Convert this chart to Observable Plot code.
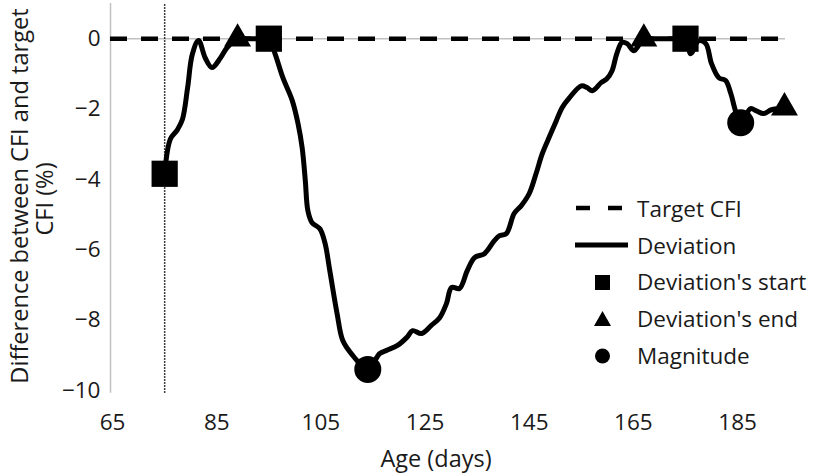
<!DOCTYPE html>
<html><head><meta charset="utf-8">
<script src="https://cdn.jsdelivr.net/npm/d3@7"></script>
<script src="https://cdn.jsdelivr.net/npm/@observablehq/plot@0.6"></script>
<style>
body{margin:0;background:#fff;font-family:"Open Sans",sans-serif;}
#wrap{position:relative;width:815px;height:475px;}
#legend{position:absolute;left:574px;top:190px;font-size:22.5px;color:#1a1a1a;}
.row{display:flex;align-items:center;height:36.8px;white-space:nowrap;}
.row svg{width:63px;height:36px;flex:none;}
</style></head><body><div id="wrap"><div id="chart"></div><div id="legend"></div></div>
<script>
// Deviation curve (age in days, difference in %)
const devDays = [75, 76.1, 77.4, 78.4, 79.4, 80.3, 81.5, 82.8, 84.1, 85.7, 87, 89, 91, 93, 95,
  96.2, 97.7, 99.5, 100.6, 101.4, 102, 102.5, 103.3, 104.8, 105.8, 106.7, 108.1, 109.2, 111.1, 114,
  116.3, 117.6, 119.7, 121.5, 122.6, 124.3, 126.2, 127.8, 129.1, 130.1, 131.6, 133.1, 134.5, 136.4,
  138.3, 139.3, 140.6, 142.1, 143.5, 145, 146.3, 147.5, 148.8, 150.2, 151.3, 152.7, 155, 156.1,
  157.1, 158.8, 159.9, 160.9, 161.8, 162.8, 163.8, 165.1, 167, 169, 171, 173, 175,
  176, 177.5, 178.9, 180, 181.4, 182.7, 183.7, 184.6, 185.6, 187.5, 188.6, 190, 191.5, 194];
const devValues = [-3.84, -2.85, -2.6, -2.3, -1.4, -0.45, -0.05, -0.55, -0.82, -0.55, -0.25, 0, 0, 0, 0,
  -0.43, -1.11, -1.76, -2.41, -3.1, -4.03, -4.89, -5.23, -5.4, -5.82, -6.59, -7.81, -8.58, -9.0, -9.4,
  -8.95, -8.86, -8.72, -8.49, -8.3, -8.38, -8.15, -7.93, -7.53, -7.07, -7.1, -6.59, -6.22, -6.11,
  -5.74, -5.6, -5.54, -4.97, -4.74, -4.4, -3.84, -3.27, -2.81, -2.33, -1.96, -1.68, -1.34, -1.39,
  -1.48, -1.25, -1.14, -0.91, -0.43, -0.11, -0.14, -0.34, 0, 0, 0, 0, 0,
  -0.43, -0.06, -0.14, -0.71, -1.11, -1.19, -1.56, -2.05, -2.39, -1.99, -2.05, -2.13, -2.02, -1.96];

const startDays = [75, 95, 175];
const startValues = [-3.84, 0, 0];
const endDays = [89, 167, 194];
const endValues = [0, 0, -1.96];
const magDays = [114, 185.6];
const magValues = [-9.4, -2.39];

const targetValue = 0;
const refDay = 75;
const xDomain = [64.6, 194.2];
const yDomain = [-10, 1];
const xTicks = [65, 85, 105, 125, 145, 165, 185];
const yTicks = [-10, -8, -6, -4, -2, 0];
const xLabel = "Age (days)";
const yLabelLines = ["Difference between CFI and target", "CFI (%)"];
const legendLabels = ["Target CFI", "Deviation", "Deviation's start", "Deviation's end", "Magnitude"];

const dev = devDays.map((d, i) => ({day: d, value: devValues[i]}));
const starts = startDays.map((d, i) => ({day: d, value: startValues[i]}));
const ends = endDays.map((d, i) => ({day: d, value: endValues[i]}));
const mags = magDays.map((d, i) => ({day: d, value: magValues[i]}));

const chart = Plot.plot({
  width: 815, height: 475,
  marginLeft: 110, marginRight: 30, marginTop: 3, marginBottom: 85,
  style: {fontFamily: "Open Sans", fontSize: "22.5px", color: "#1a1a1a", background: "white", overflow: "visible"},
  x: {domain: xDomain, ticks: xTicks, tickSize: 0, tickPadding: 24, label: null},
  y: {domain: yDomain, ticks: yTicks, tickSize: 0, tickPadding: 10, label: null},
  marks: [
    Plot.ruleX([xDomain[0]], {y1: -10.08, y2: yDomain[1], stroke: "#c0c0c0", strokeWidth: 1.5}),
    Plot.ruleY([targetValue], {stroke: "#c0c0c0", strokeWidth: 1.5}),
    Plot.ruleX([refDay], {y1: -10.08, y2: yDomain[1], stroke: "#000", strokeWidth: 1.5, strokeDasharray: "1.5,1.5"}),
    Plot.ruleY([targetValue], {stroke: "#000", strokeWidth: 4.5, strokeDasharray: "17,14"}),
    Plot.line(dev, {x: "day", y: "value", curve: "catmull-rom", stroke: "#000", strokeWidth: 5}),
    Plot.dot(starts, {x: "day", y: "value", symbol: "square", r: 14.8, fill: "#000"}),
    Plot.dot(ends, {x: "day", y: "value", symbol: "triangle", r: 10, fill: "#000"}),
    Plot.dot(mags, {x: "day", y: "value", symbol: "circle", r: 13.5, fill: "#000"}),
    Plot.text([yLabelLines[0]], {text: d => d, frameAnchor: "left", textAnchor: "middle", rotate: -90, dx: -90, dy: -1, fontSize: 23.6, fill: "#1a1a1a"}),
    Plot.text([yLabelLines[1]], {text: d => d, frameAnchor: "left", textAnchor: "middle", rotate: -90, dx: -65, dy: 2, fontSize: 23.6, fill: "#1a1a1a"}),
    Plot.text([xLabel], {text: d => d, frameAnchor: "bottom", dx: -12, dy: 76, fontSize: 23.5, fill: "#1a1a1a"})
  ]
});
document.getElementById("chart").appendChild(chart);

// Legend (inside the plot area, as in the reference)
const sym = [
  '<line x1="2" y1="18" x2="50" y2="18" stroke="#000" stroke-width="4.5" stroke-dasharray="14,18"/>',
  '<line x1="1" y1="18" x2="54" y2="18" stroke="#000" stroke-width="5"/>',
  '<rect x="21" y="11" width="15" height="15" fill="#000"/>',
  '<path d="M28.5,10 L37,25 L20,25 Z" fill="#000"/>',
  '<circle cx="28.5" cy="18" r="7.5" fill="#000"/>'
];
const legend = document.getElementById("legend");
legendLabels.forEach((lab, i) => {
  const row = document.createElement("div");
  row.className = "row";
  row.innerHTML = `<svg viewBox="0 0 63 36">${sym[i]}</svg><span></span>`;
  row.querySelector("span").textContent = lab;
  legend.appendChild(row);
});
</script>
</body></html>
